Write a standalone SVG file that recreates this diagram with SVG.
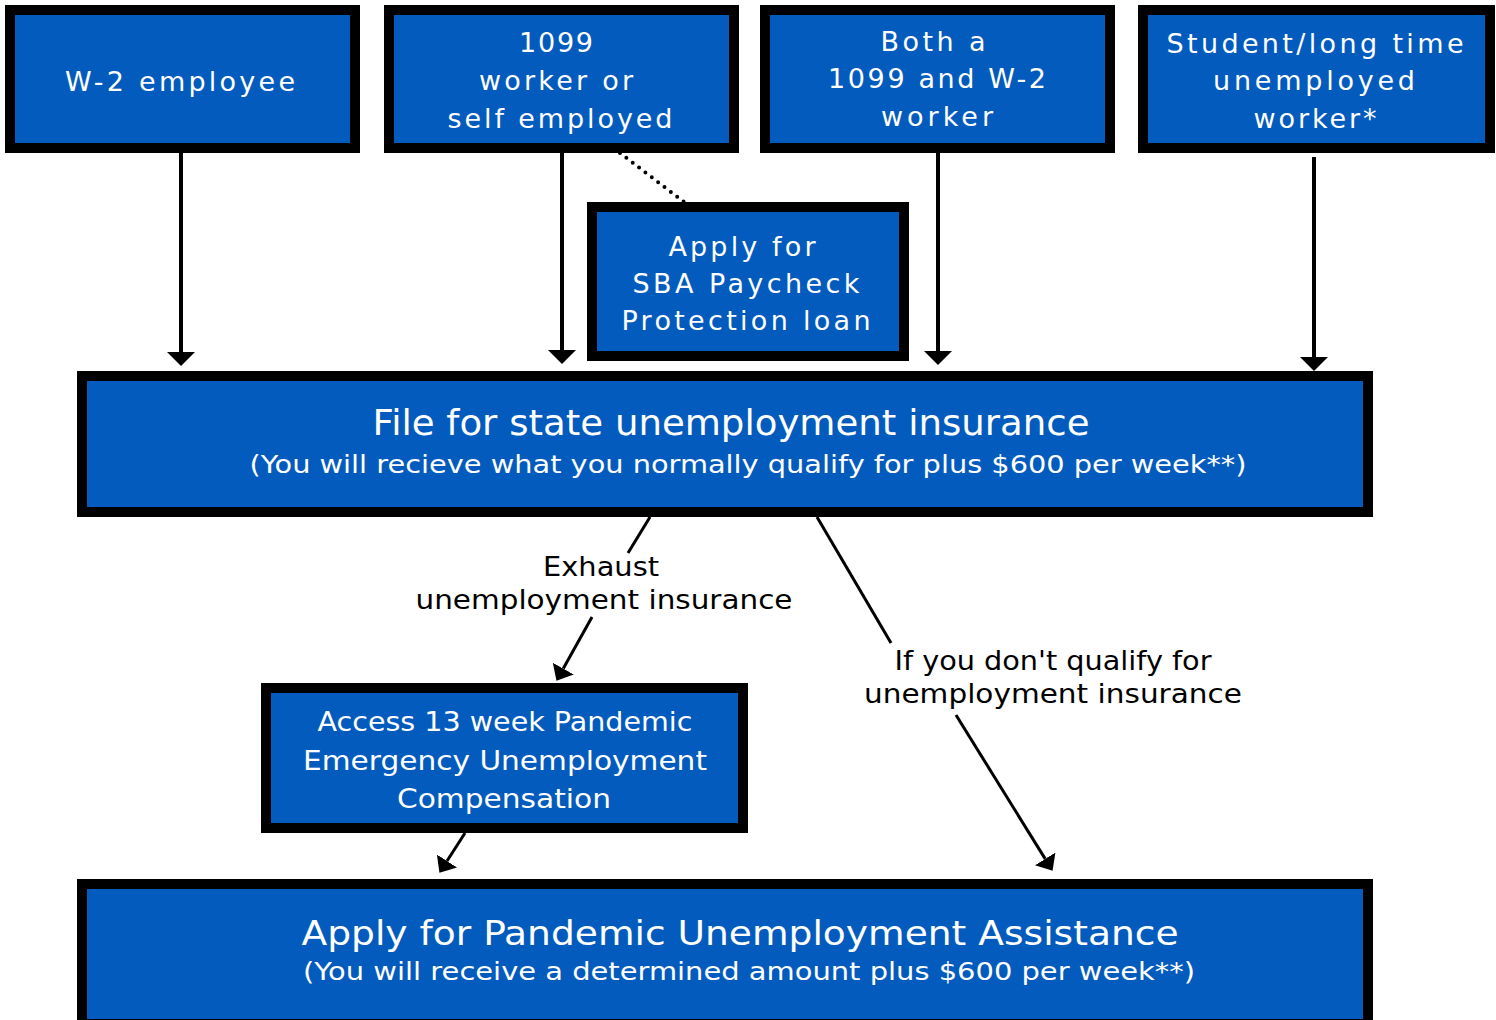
<svg xmlns="http://www.w3.org/2000/svg" width="1496" height="1020" viewBox="0 0 1496 1020">
  <style>
    .box { fill: #035BBD; stroke: #000; stroke-width: 10; }
    .t { fill: #fff; font-family: "DejaVu Sans", "Liberation Sans", sans-serif; text-anchor: middle; }
    .top { font-size: 27px; }
    .big { font-size: 36px; }
    .big2 { font-size: 34px; }
    .sub { font-size: 25px; }
    .lbl { fill: #000; font-family: "DejaVu Sans", "Liberation Sans", sans-serif; font-size: 26px; text-anchor: middle; }
    .conn { stroke: #000; fill: none; }
    .v { stroke-width: 4; marker-end: url(#ah); }
    .d { stroke-width: 3; }
    .da { stroke-width: 3; marker-end: url(#ah2); }
  </style>
  <defs>
    <marker id="ah" markerUnits="userSpaceOnUse" markerWidth="14" markerHeight="28" viewBox="0 0 14 28" refX="0" refY="14" orient="auto">
      <path d="M0,0 L14,14 L0,28 z" fill="#000"/>
    </marker>
    <marker id="ah2" markerUnits="userSpaceOnUse" markerWidth="14" markerHeight="24" viewBox="0 0 14 24" refX="0" refY="12" orient="auto">
      <path d="M0,0 L14,12 L0,24 z" fill="#000"/>
    </marker>
  </defs>

  <g id="connectors">
    <line class="conn v" x1="181" y1="153" x2="181" y2="352"/>
    <line class="conn v" x1="562" y1="153" x2="562" y2="350"/>
    <line class="conn v" x1="938" y1="153" x2="938" y2="351"/>
    <line class="conn v" x1="1314" y1="157" x2="1314" y2="357"/>
    <line class="conn" x1="620" y1="153" x2="688" y2="205" stroke-width="4" stroke-dasharray="0 8" stroke-linecap="round"/>
    <line class="conn d" x1="650" y1="517" x2="628" y2="553"/>
    <line class="conn da" x1="592" y1="617" x2="563.3" y2="668.6"/>
    <line class="conn d" x1="817" y1="517" x2="891" y2="643"/>
    <line class="conn da" x1="956" y1="715" x2="1045.2" y2="858.9"/>
    <line class="conn da" x1="465" y1="833" x2="447" y2="861"/>
    <text class="lbl" x="601" y="576" textLength="116" lengthAdjust="spacingAndGlyphs">Exhaust</text>
    <text class="lbl" x="604" y="609" textLength="377" lengthAdjust="spacingAndGlyphs">unemployment insurance</text>
    <text class="lbl" x="1053" y="670" textLength="317" lengthAdjust="spacingAndGlyphs">If you don't qualify for</text>
    <text class="lbl" x="1053" y="703" textLength="378" lengthAdjust="spacingAndGlyphs">unemployment insurance</text>
  </g>

  <g id="w2">
    <rect class="box" x="10" y="10" width="345" height="138"/>
    <text class="t top" x="180" y="91" textLength="230">W-2 employee</text>
  </g>

  <g id="n1099">
    <rect class="box" x="389" y="10" width="345" height="138"/>
    <text class="t top" x="556" y="52" textLength="74">1099</text>
    <text class="t top" x="556" y="90" textLength="154">worker or</text>
    <text class="t top" x="560" y="128" textLength="225">self employed</text>
  </g>

  <g id="both">
    <rect class="box" x="765" y="10" width="345" height="138"/>
    <text class="t top" x="933" y="51" textLength="105">Both a</text>
    <text class="t top" x="937" y="88" textLength="218">1099 and W-2</text>
    <text class="t top" x="937" y="126" textLength="112">worker</text>
  </g>

  <g id="student">
    <rect class="box" x="1143" y="10" width="347" height="138"/>
    <text class="t top" x="1315" y="53" textLength="297">Student/long time</text>
    <text class="t top" x="1314" y="90" textLength="202">unemployed</text>
    <text class="t top" x="1315" y="128" textLength="123">worker*</text>
  </g>

  <g id="sba">
    <rect class="box" x="592" y="207" width="312" height="149"/>
    <text class="t top" x="742" y="256" textLength="147">Apply for</text>
    <text class="t top" x="746" y="293" textLength="227">SBA Paycheck</text>
    <text class="t top" x="746" y="330" textLength="249">Protection loan</text>
  </g>

  <g id="state">
    <rect class="box" x="82" y="376" width="1286" height="136"/>
    <text class="t big" x="731" y="435" textLength="717" lengthAdjust="spacingAndGlyphs">File for state unemployment insurance</text>
    <text class="t sub" x="748" y="473" textLength="997" lengthAdjust="spacingAndGlyphs">(You will recieve what you normally qualify for plus $600 per week**)</text>
  </g>

  <g id="peuc">
    <rect class="box" x="266" y="688" width="477" height="140"/>
    <text class="t top" x="505" y="731" textLength="375" lengthAdjust="spacingAndGlyphs">Access 13 week Pandemic</text>
    <text class="t top" x="505" y="770" textLength="404" lengthAdjust="spacingAndGlyphs">Emergency Unemployment</text>
    <text class="t top" x="504" y="808" textLength="214" lengthAdjust="spacingAndGlyphs">Compensation</text>
  </g>

  <g id="pua">
    <rect class="box" x="82" y="884" width="1286" height="140"/>
    <text class="t big2" x="740" y="945" textLength="877" lengthAdjust="spacingAndGlyphs">Apply for Pandemic Unemployment Assistance</text>
    <text class="t sub" x="749" y="980" textLength="892" lengthAdjust="spacingAndGlyphs">(You will receive a determined amount plus $600 per week**)</text>
  </g>
</svg>
